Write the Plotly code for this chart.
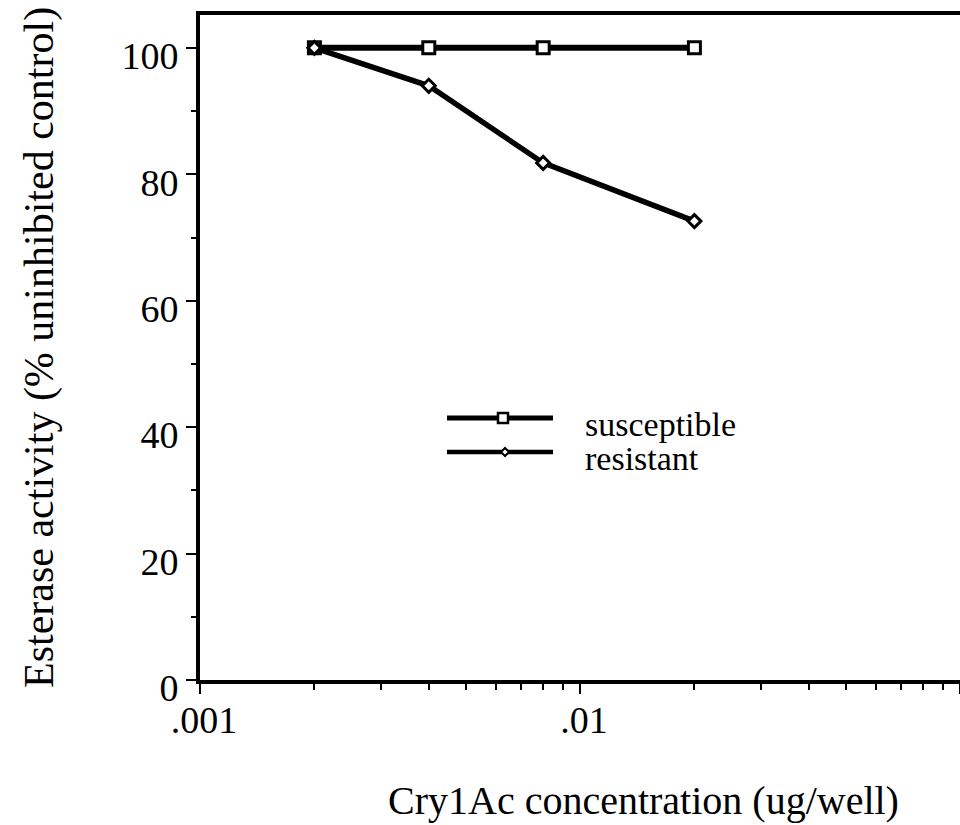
import plotly.graph_objects as go

conc = [0.002, 0.004, 0.008, 0.02]
susceptible = [100, 100, 100, 100]
resistant = [100, 94.0, 81.8, 72.6]
y_ticks = [0, 20, 40, 60, 80, 100]
x_tickvals = [0.001, 0.01, 0.1]
x_ticktext = [".001", ".01", ".1"]
legend_names = ["susceptible", "resistant"]

FONT = "Liberation Serif, Times New Roman, serif"

AX_Y = 680   # pixel row of x axis
TOP = 15
LEFT = 200
W = 760
H = AX_Y - TOP

fig = go.Figure()
fig.add_trace(go.Scatter(
    x=conc, y=susceptible, mode="lines+markers", name=legend_names[0],
    line=dict(color="black", width=6),
    marker=dict(symbol="square", size=12, color="white", line=dict(color="black", width=3)),
    cliponaxis=False))
fig.add_trace(go.Scatter(
    x=conc, y=resistant, mode="lines+markers", name=legend_names[1],
    line=dict(color="black", width=5.5),
    marker=dict(symbol="diamond", size=10, color="white", line=dict(color="black", width=3)),
    cliponaxis=False))

fig.update_layout(
    width=960, height=825,
    margin=dict(l=LEFT, r=0, t=TOP, b=825 - AX_Y),
    paper_bgcolor="white", plot_bgcolor="white",
    showlegend=False,
    font=dict(family=FONT, color="black", size=38),
)
fig.update_xaxes(
    type="log", range=[-3, -1],
    tickmode="array", tickvals=x_tickvals, ticktext=x_ticktext,
    ticks="outside", ticklen=10, tickwidth=2, tickcolor="black",
    ticklabelstandoff=-7, ticklabelshift=4,
    minor=dict(dtick="D1", ticks="outside", ticklen=6, tickwidth=2, tickcolor="black"),
    showline=True, linecolor="black", linewidth=4, mirror=True,
    showgrid=False, zeroline=False,
    tickfont=dict(size=38, family=FONT),
)
fig.update_yaxes(
    range=[0, 105.2],
    tickmode="array", tickvals=y_ticks, ticktext=[str(v) for v in y_ticks],
    ticks="outside", ticklen=10, tickwidth=2, tickcolor="black",
    ticklabelshift=8,
    minor=dict(dtick=10, ticks="outside", ticklen=5, tickwidth=2, tickcolor="black"),
    showline=True, linecolor="black", linewidth=4,
    showgrid=False, zeroline=False,
    tickfont=dict(size=38, family=FONT),
)

def px(xp):
    return (xp - LEFT) / W

def py(yp):
    return (AX_Y - yp) / H

# axis titles
fig.add_annotation(text="Cry1Ac concentration (ug/well)", xref="paper", yref="paper",
                   x=px(643), y=py(800), xanchor="center", yanchor="middle",
                   showarrow=False, font=dict(size=40, family=FONT))
fig.add_annotation(text="Esterase activity (% uninhibited control)", xref="paper", yref="paper",
                   x=px(40), y=py(348), xanchor="center", yanchor="middle",
                   textangle=-90, showarrow=False, font=dict(size=42, family=FONT))

# legend drawn manually
for i, (yy, w) in enumerate([(418, 5), (452, 4.5)]):
    fig.add_shape(type="line", xref="paper", yref="paper", x0=px(447), x1=px(553),
                  y0=py(yy), y1=py(yy), line=dict(color="black", width=w))
    fig.add_annotation(text=legend_names[i], xref="paper", yref="paper", x=px(583), y=py(yy + 6),
                       xanchor="left", yanchor="middle", showarrow=False,
                       font=dict(size=34, family=FONT))
fig.add_shape(type="rect", xref="paper", yref="paper", xsizemode="pixel", ysizemode="pixel",
              xanchor=px(503), yanchor=py(418), x0=-5, x1=5, y0=-5, y1=5,
              fillcolor="white", line=dict(color="black", width=2.5))
fig.add_shape(type="path", xref="paper", yref="paper", xsizemode="pixel", ysizemode="pixel",
              xanchor=px(505), yanchor=py(452), path="M -4 0 L 0 4 L 4 0 L 0 -4 Z",
              fillcolor="white", line=dict(color="black", width=2))

fig.write_html("out.html", config={"displayModeBar": False},
               post_script="document.body.style.margin='0';")
